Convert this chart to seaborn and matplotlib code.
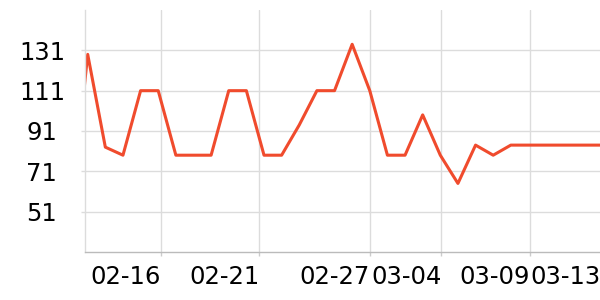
import matplotlib
matplotlib.use("Agg")
import matplotlib.pyplot as plt
import seaborn as sns
import pandas as pd

# data (one value per step; first and last points fall just outside the visible range)
step = list(range(-1, 31))
value = [45, 129, 83, 79, 111, 111, 79, 79, 79, 111, 111, 79, 79, 94, 111, 111,
         134, 111, 79, 79, 99, 79, 65, 84, 79, 84, 84, 84, 84, 84, 84, 84]

x_tick_labels = ["02-16", "02-21", "02-27", "03-04", "03-09", "03-13"]
x_tick_pos = [4.14, 9.73, 16.0, 20.06, 25.07, 29.12]
y_ticks = [51, 71, 91, 111, 131]

df = pd.DataFrame({"step": step, "value": value})

sns.set_theme(style="white")
plt.rcParams["font.family"] = ["DejaVu Sans"]

fig = plt.figure(figsize=(6, 3), dpi=100)
ax = fig.add_axes([85.5 / 600, 48 / 300, 517 / 600, 242 / 300])

sns.lineplot(data=df, x="step", y="value", ax=ax, color="#F04B2D", linewidth=2.2)

ax.set_xlim(-0.125, -0.125 + 517 / 17.63)
ax.set_ylim(31, 151)
ax.set_xticks(x_tick_pos)
ax.set_xticklabels(x_tick_labels, ha="right")
ax.set_yticks(y_ticks)
ax.set_yticklabels([str(v) for v in y_ticks], ha="center")
ax.set_xlabel("")
ax.set_ylabel("")

ax.grid(True, color="#dcdcdc", linewidth=1)
ax.set_axisbelow(True)
for s in ["top", "right"]:
    ax.spines[s].set_visible(False)
ax.spines["left"].set_color("#dcdcdc")
ax.spines["left"].set_linewidth(1)
ax.spines["bottom"].set_color("#bbbbbb")
ax.spines["bottom"].set_linewidth(1)

ax.tick_params(axis="x", length=3, width=1, color="#cccccc", pad=6,
               labelsize=17.5, labelcolor="black", bottom=True)
ax.tick_params(axis="y", length=3, width=1, color="#dcdcdc", pad=28.4,
               labelsize=17.5, labelcolor="black", left=True)

fig.savefig("out.png", dpi=100)
